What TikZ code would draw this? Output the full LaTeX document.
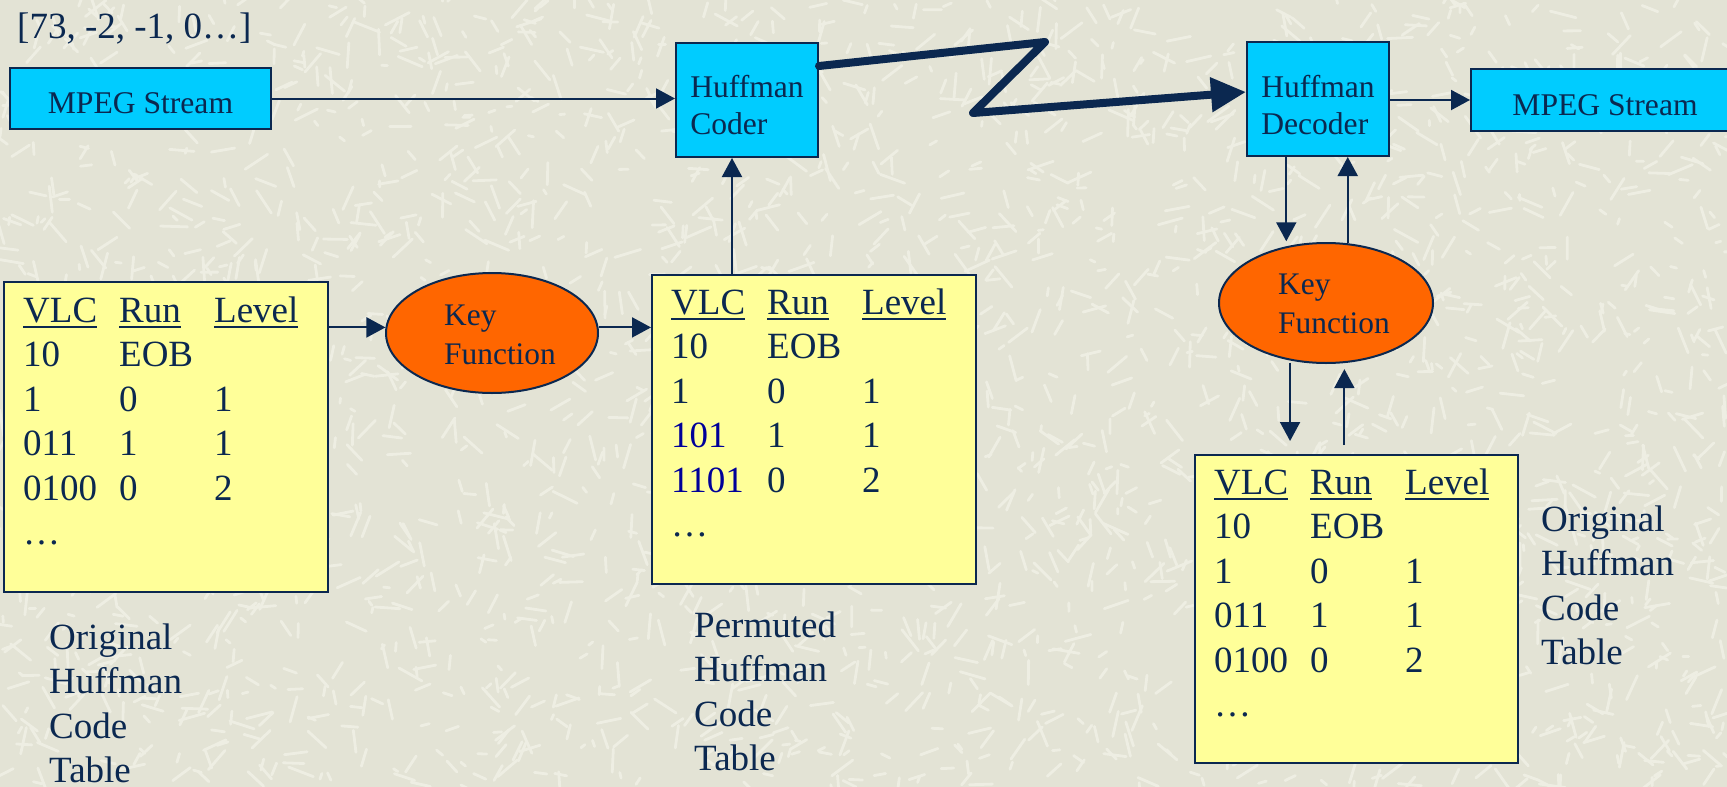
\documentclass[tikz,border=0pt]{standalone}
\usepackage{fontspec}
\setmainfont{Liberation Serif}
\usetikzlibrary{arrows.meta,calc,shapes.geometric}

\definecolor{navy}{HTML}{0B2850}
\definecolor{paper}{HTML}{E3E3D5}
\definecolor{fleckcol}{HTML}{EEEEE3}
\definecolor{boxcyan}{HTML}{00CCFF}
\definecolor{keyorange}{HTML}{FF6600}
\definecolor{tablefill}{HTML}{FFFF99}
\definecolor{permblue}{HTML}{000099}

% underlined column heading
\newcommand\hdrline[1]{\leavevmode\setbox0\hbox{#1}\rlap{\rule[-6pt]{\wd0}{2.4pt}}\box0}

\tikzset{
  streambox/.style={rectangle, draw=navy, line width=2pt, fill=boxcyan, inner sep=0pt,
    text=navy, font=\fontsize{31.6pt}{37pt}\selectfont},
  keyfn/.style={ellipse, draw=navy, line width=2pt, fill=keyorange, inner sep=0pt},
  codebox/.style={rectangle, draw=navy, line width=2pt, fill=tablefill, inner sep=0pt},
  bodytext/.style={text=navy, inner sep=0pt, anchor=base west,
    font=\fontsize{37pt}{44.5pt}\selectfont},
  keytext/.style={text=navy, inner sep=0pt, anchor=base west,
    font=\fontsize{31.4pt}{39pt}\selectfont},
  link/.style={draw=navy, line width=2pt, -{Triangle[length=19pt,width=20pt]}},
  channel/.style={draw=navy, line width=8pt, line join=round, line cap=round,
    -{Triangle[length=35pt,width=33pt]}},
  speck/.style={draw=fleckcol, line width=2.8pt, line cap=round}
}

\begin{document}
\begin{tikzpicture}[x=1pt, y=-1pt]
  % paper background with light flecks
  \fill[paper] (0,0) rectangle (1727,787);
  \useasboundingbox (0,0) rectangle (1727,787);
  \begin{scope}
    \clip (0,0) rectangle (1727,787);
    \pgfmathsetseed{4242}
    \foreach \k in {1,...,2600}{
      \pgfmathsetmacro\fx{1727*rnd}
      \pgfmathsetmacro\fy{787*rnd}
      \pgfmathsetmacro\fa{360*rnd}
      \pgfmathsetmacro\fl{5+22*rnd}
      \draw[speck] (\fx,\fy) -- ++(\fa:\fl pt);
    }
  \end{scope}

  % sample coefficients
  \node[bodytext] (coef) at (17,38) {[73, -2, -1, 0…]};

  % stream boxes, coder and decoder
  \node[streambox, minimum width=261pt, text height=45pt, text depth=16pt] (src) at (140.5,98.5) {MPEG Stream};
  \node[streambox, minimum width=142pt, text height=54pt, text depth=60pt] (coder) at (747,100)
    {\begin{tabular}[t]{@{}l@{}}Huffman\\Coder\end{tabular}};
  \node[streambox, minimum width=142pt, text height=55pt, text depth=59pt] (dec) at (1318,99)
    {\begin{tabular}[t]{@{}l@{}}Huffman\\Decoder\end{tabular}};
  \node[streambox, minimum width=268pt, text height=46pt, text depth=16pt] (dst) at (1605,100) {MPEG Stream};

  % key functions
  \node[keyfn, minimum width=212pt, minimum height=120pt] (kf1) at (492,333) {};
  \node[keytext] (kf1t) at ($(kf1.center)+(-48,-8)$)
    {\begin{tabular}[t]{@{}l@{}}Key\\Function\end{tabular}};
  \node[keyfn, minimum width=214pt, minimum height=120pt] (kf2) at (1326,303) {};
  \node[keytext] (kf2t) at ($(kf2.center)+(-48,-9)$)
    {\begin{tabular}[t]{@{}l@{}}Key\\Function\end{tabular}};

  % code tables
  \node[codebox, minimum width=324pt, minimum height=310pt] (t1) at (166,437) {};
  \node[bodytext] (t1txt) at ($(t1.north west)+(20,41)$)
    {\begin{tabular}[t]{@{}p{96pt}@{}p{95pt}@{}l@{}}
      \hdrline{VLC} & \hdrline{Run} & \hdrline{Level}\\
      10 & EOB & \\
      1 & 0 & 1\\
      011 & 1 & 1\\
      0100 & 0 & 2\\
      … & &
    \end{tabular}};

  \node[codebox, minimum width=324pt, minimum height=309pt] (t2) at (814,429.5) {};
  \node[bodytext] (t2txt) at ($(t2.north west)+(20,40)$)
    {\begin{tabular}[t]{@{}p{96pt}@{}p{95pt}@{}l@{}}
      \hdrline{VLC} & \hdrline{Run} & \hdrline{Level}\\
      10 & EOB & \\
      1 & 0 & 1\\
      \textcolor{permblue}{101} & 1 & 1\\
      \textcolor{permblue}{1101} & 0 & 2\\
      … & &
    \end{tabular}};

  \node[codebox, minimum width=323pt, minimum height=308pt] (t3) at (1356.5,609) {};
  \node[bodytext] (t3txt) at ($(t3.north west)+(20,40)$)
    {\begin{tabular}[t]{@{}p{96pt}@{}p{95pt}@{}l@{}}
      \hdrline{VLC} & \hdrline{Run} & \hdrline{Level}\\
      10 & EOB & \\
      1 & 0 & 1\\
      011 & 1 & 1\\
      0100 & 0 & 2\\
      … & &
    \end{tabular}};

  % table captions
  \node[bodytext] (cap1) at (49,649)
    {\begin{tabular}[t]{@{}l@{}}Original\\Huffman\\Code\\Table\end{tabular}};
  \node[bodytext] (cap2) at (694,637)
    {\begin{tabular}[t]{@{}l@{}}Permuted\\Huffman\\Code\\Table\end{tabular}};
  \node[bodytext] (cap3) at (1541,531)
    {\begin{tabular}[t]{@{}l@{}}Original\\Huffman\\Code\\Table\end{tabular}};

  % connectors
  \draw[link] (src.east) -- (coder.west |- src.east);
  \draw[link] ([xshift=-15pt]coder.south |- t2.north) -- ([xshift=-15pt]coder.south);
  \draw[link] (t1.east |- kf1.177) -- (kf1.177);
  \draw[link] (kf1.3) -- (t2.west |- kf1.3);

  \coordinate (zpeak) at (1045,42);
  \coordinate (zlow) at (973,113);
  \draw[channel] ([yshift=-24pt]coder.north east) -- (zpeak) -- (zlow) -- ([yshift=7pt]dec.west);

  \draw[link] (dec.east |- dst.west) -- (dst.west);

  \draw[link, shorten >=5pt] (dec.south -| kf2.125) -- (kf2.125);
  \draw[link] (kf2.70) -- (dec.south -| kf2.70);
  \draw[link, shorten >=13pt, shorten <=2pt] (kf2.238) -- (t3.north -| kf2.238);
  \draw[link, shorten <=9pt, shorten >=6pt] (t3.north -| kf2.287) -- (kf2.287);
\end{tikzpicture}
\end{document}
